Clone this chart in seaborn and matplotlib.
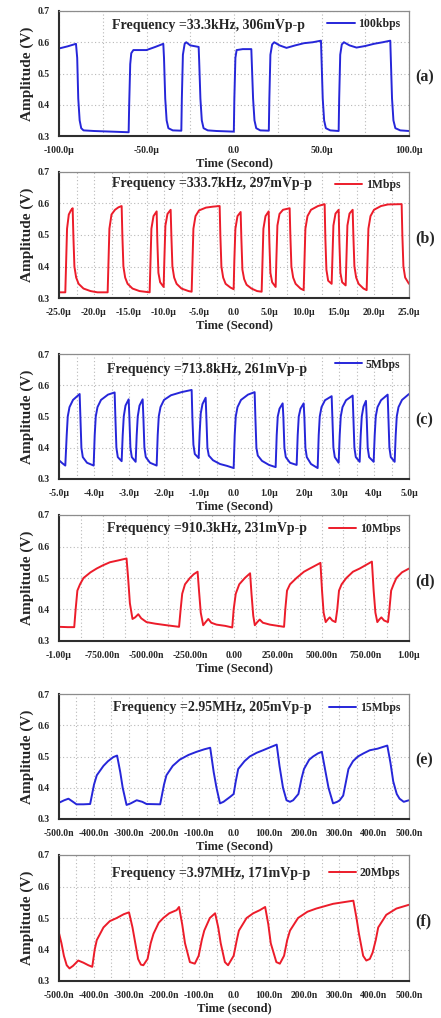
import numpy as np
import pandas as pd
import matplotlib
matplotlib.use("Agg")
import matplotlib.pyplot as plt
from matplotlib.ticker import FixedLocator, MultipleLocator
import seaborn as sns

# ---------------- data ----------------
# (a) 100kbps, time in microseconds
t_a = [-100, -95, -90.3, -89.6, -89.0, -88.2, -87.3, -86, -80, -70, -60.2,
       -59.9, -59.3, -58.7, -57.5, -50, -45, -40.4,
       -40.0, -39.3, -38.5, -37.5, -35, -30.1,
       -29.8, -29.2, -28.2, -27.3, -25, -20.2,
       -19.9, -19.2, -18.4, -17.4, -15, -10, -5, -0.1,
       0.2, 0.8, 1.5, 5, 9.9,
       10.2, 10.9, 11.7, 12.7, 15, 19.9,
       20.2, 20.8, 21.8, 23, 26, 30, 35, 40, 45, 49.7,
       50.0, 50.7, 51.5, 52.5, 55, 59.8,
       60.1, 60.7, 61.6, 62.8, 66, 70, 75, 80, 85, 89.3,
       89.6, 90.3, 91.1, 92.2, 95, 100]
v_a = [0.580, 0.587, 0.595, 0.55, 0.42, 0.35, 0.325, 0.318, 0.316, 0.314, 0.312,
       0.40, 0.53, 0.565, 0.575, 0.575, 0.585, 0.595,
       0.55, 0.42, 0.35, 0.325, 0.318, 0.317,
       0.42, 0.56, 0.595, 0.600, 0.59, 0.585,
       0.54, 0.42, 0.35, 0.325, 0.318, 0.316, 0.315, 0.314,
       0.42, 0.55, 0.575, 0.578, 0.578,
       0.53, 0.42, 0.35, 0.325, 0.318, 0.317,
       0.42, 0.56, 0.593, 0.600, 0.59, 0.582, 0.59, 0.597, 0.600, 0.605,
       0.55, 0.42, 0.35, 0.325, 0.318, 0.316,
       0.42, 0.56, 0.593, 0.600, 0.59, 0.583, 0.588, 0.595, 0.600, 0.605,
       0.55, 0.42, 0.35, 0.325, 0.318, 0.316]

# (b) 1Mbps, microseconds
t_b = [-25, -24.1,
       -24.0, -23.85, -23.6, -23.3, -23.05,
       -22.95, -22.8, -22.55, -22.2, -21.5, -20.5, -19.5, -18.05,
       -17.95, -17.8, -17.5, -17.0, -16.5, -16.05,
       -15.95, -15.8, -15.55, -15.2, -14.5, -13.5, -12.05,
       -11.95, -11.8, -11.5, -11.05,
       -10.95, -10.8, -10.55, -10.05,
       -9.95, -9.8, -9.5, -9.05,
       -8.95, -8.8, -8.55, -8.2, -7.5, -6.5, -6.05,
       -5.95, -5.8, -5.5, -5.0, -4.0, -3.0, -2.05,
       -1.95, -1.8, -1.55, -1.2, -0.5, -0.05,
       0.05, 0.2, 0.5, 0.95,
       1.05, 1.2, 1.45, 1.8, 2.5, 3.3, 3.95,
       4.05, 4.2, 4.5, 4.95,
       5.05, 5.2, 5.45, 5.95,
       6.05, 6.2, 6.5, 7.0, 7.95,
       8.05, 8.2, 8.45, 8.8, 9.5, 9.95,
       10.05, 10.2, 10.5, 11.0, 12.0, 12.95,
       13.05, 13.2, 13.45, 13.95,
       14.05, 14.2, 14.5, 14.95,
       15.05, 15.2, 15.45, 15.95,
       16.05, 16.2, 16.5, 16.95,
       17.05, 17.2, 17.45, 17.8, 18.5, 18.95,
       19.05, 19.2, 19.5, 20.0, 21.0, 22.0, 23.95,
       24.05, 24.2, 24.45, 25.0]
v_b = [0.318, 0.318,
       0.40, 0.52, 0.565, 0.578, 0.585,
       0.50, 0.40, 0.365, 0.345, 0.33, 0.322, 0.318, 0.318,
       0.40, 0.52, 0.565, 0.58, 0.588, 0.592,
       0.50, 0.40, 0.365, 0.345, 0.33, 0.322, 0.318,
       0.40, 0.52, 0.56, 0.575,
       0.48, 0.38, 0.35, 0.335,
       0.42, 0.53, 0.567, 0.58,
       0.50, 0.40, 0.365, 0.345, 0.33, 0.322, 0.32,
       0.40, 0.52, 0.56, 0.578, 0.587, 0.59, 0.592,
       0.50, 0.40, 0.365, 0.345, 0.333, 0.328,
       0.42, 0.52, 0.56, 0.573,
       0.49, 0.39, 0.36, 0.342, 0.33, 0.322, 0.32,
       0.40, 0.52, 0.56, 0.575,
       0.48, 0.38, 0.35, 0.335,
       0.42, 0.53, 0.567, 0.58, 0.585,
       0.50, 0.40, 0.365, 0.345, 0.33, 0.325,
       0.40, 0.52, 0.56, 0.58, 0.592, 0.598,
       0.49, 0.39, 0.355, 0.345,
       0.42, 0.53, 0.568, 0.58,
       0.48, 0.38, 0.35, 0.34,
       0.42, 0.53, 0.568, 0.58,
       0.50, 0.40, 0.365, 0.345, 0.33, 0.325,
       0.40, 0.52, 0.56, 0.58, 0.592, 0.597, 0.598,
       0.50, 0.40, 0.365, 0.345]

# (c) 5Mbps, microseconds
t_c = [-5.0, -4.9, -4.82,
       -4.78, -4.75, -4.7, -4.6, -4.41,
       -4.39, -4.36, -4.32, -4.2, -4.01,
       -3.98, -3.95, -3.9, -3.8, -3.6, -3.41,
       -3.39, -3.36, -3.32, -3.21,
       -3.18, -3.15, -3.1, -3.01,
       -2.99, -2.96, -2.92, -2.81,
       -2.78, -2.75, -2.7, -2.61,
       -2.59, -2.56, -2.52, -2.4, -2.21,
       -2.18, -2.15, -2.1, -2.0, -1.8, -1.5, -1.21,
       -1.19, -1.16, -1.12, -1.01,
       -0.98, -0.95, -0.9, -0.81,
       -0.79, -0.76, -0.72, -0.6, -0.4, -0.2, -0.01,
       0.02, 0.05, 0.1, 0.2, 0.4, 0.59,
       0.61, 0.64, 0.68, 0.8, 1.0, 1.19,
       1.22, 1.25, 1.3, 1.39,
       1.41, 1.44, 1.48, 1.6, 1.79,
       1.82, 1.85, 1.9, 1.99,
       2.01, 2.04, 2.08, 2.2, 2.39,
       2.42, 2.45, 2.5, 2.6, 2.79,
       2.81, 2.84, 2.88, 2.99,
       3.02, 3.05, 3.1, 3.2, 3.39,
       3.41, 3.44, 3.48, 3.59,
       3.62, 3.65, 3.7, 3.77,
       3.79, 3.82, 3.86, 3.99,
       4.02, 4.05, 4.1, 4.2, 4.39,
       4.41, 4.44, 4.48, 4.59,
       4.62, 4.65, 4.7, 4.8, 5.0]
v_c = [0.36, 0.35, 0.343,
       0.44, 0.50, 0.53, 0.553, 0.572,
       0.50, 0.40, 0.37, 0.352, 0.343,
       0.44, 0.50, 0.53, 0.553, 0.57, 0.577,
       0.50, 0.40, 0.37, 0.357,
       0.44, 0.50, 0.535, 0.555,
       0.50, 0.40, 0.37, 0.355,
       0.44, 0.50, 0.535, 0.555,
       0.50, 0.40, 0.37, 0.352, 0.343,
       0.44, 0.50, 0.53, 0.553, 0.568, 0.578, 0.585,
       0.50, 0.41, 0.38, 0.367,
       0.45, 0.51, 0.54, 0.56,
       0.50, 0.40, 0.375, 0.36, 0.348, 0.342, 0.335,
       0.44, 0.50, 0.53, 0.553, 0.57, 0.578,
       0.50, 0.40, 0.375, 0.358, 0.345, 0.338,
       0.44, 0.50, 0.525, 0.542,
       0.50, 0.40, 0.37, 0.352, 0.345,
       0.44, 0.50, 0.525, 0.542,
       0.50, 0.40, 0.37, 0.348, 0.335,
       0.44, 0.50, 0.53, 0.552, 0.565,
       0.50, 0.40, 0.37, 0.352,
       0.44, 0.50, 0.53, 0.552, 0.567,
       0.50, 0.40, 0.37, 0.355,
       0.44, 0.50, 0.532, 0.55,
       0.50, 0.40, 0.37, 0.355,
       0.44, 0.50, 0.53, 0.552, 0.57,
       0.50, 0.40, 0.37, 0.355,
       0.44, 0.50, 0.53, 0.553, 0.572]

# (d) 10Mbps, nanoseconds
t_d = [-1000, -950, -913,
       -905, -895, -880, -860, -820, -785, -750, -709, -660, -614,
       -605, -595, -580, -565, -547, -530, -500, -450, -385, -314,
       -305, -296, -280, -252, -230, -208,
       -200, -190, -176, -162, -147, -130, -100, -50, -10,
       -2, 10, 30, 62, 92,
       100, 110, 119, 133, 147, 165, 205, 286,
       293, 303, 320, 357, 400, 433, 494,
       503, 512, 524, 535, 547, 562, 580,
       590, 600, 615, 642, 680, 718, 788,
       798, 808, 819, 830, 842, 858, 880,
       888, 898, 912, 928, 960, 1000]
v_d = [0.345, 0.344, 0.344,
       0.40, 0.46, 0.48, 0.50, 0.518, 0.53, 0.54, 0.55, 0.556, 0.562,
       0.50, 0.42, 0.37, 0.375, 0.385, 0.372, 0.36, 0.355, 0.35, 0.345,
       0.40, 0.45, 0.48, 0.50, 0.512, 0.52,
       0.46, 0.39, 0.35, 0.36, 0.37, 0.358, 0.352, 0.348, 0.343,
       0.40, 0.45, 0.48, 0.50, 0.515,
       0.45, 0.38, 0.35, 0.36, 0.368, 0.358, 0.352, 0.345,
       0.40, 0.46, 0.48, 0.50, 0.52, 0.53, 0.548,
       0.46, 0.39, 0.36, 0.368, 0.375, 0.365, 0.36,
       0.40, 0.46, 0.48, 0.50, 0.52, 0.53, 0.552,
       0.46, 0.39, 0.36, 0.368, 0.375, 0.365, 0.36,
       0.40, 0.46, 0.48, 0.50, 0.518, 0.53]

# (e) 15Mbps, nanoseconds
t_e = [-500, -485, -473, -460, -450, -430, -411,
       -400, -392, -373, -360, -345, -334,
       -325, -318, -307, -295, -278, -262, -250, -211,
       -200, -193, -175, -155, -130, -107, -85, -68,
       -58, -50, -40, -30, -12, -1,
       5, 12, 30, 45, 65, 83, 100, 122,
       130, 140, 150, 160, 169, 184,
       193, 200, 215, 226, 240, 251,
       260, 270, 283, 295, 302, 312,
       320, 327, 340, 354, 370, 388, 410, 438,
       447, 455, 465, 473, 485, 500]
v_e = [0.352, 0.36, 0.365, 0.355, 0.347, 0.347, 0.348,
       0.41, 0.44, 0.47, 0.485, 0.498, 0.503,
       0.45, 0.40, 0.345, 0.35, 0.36, 0.355, 0.348, 0.347,
       0.41, 0.44, 0.47, 0.49, 0.505, 0.515, 0.523, 0.528,
       0.45, 0.40, 0.35, 0.355, 0.37, 0.38,
       0.42, 0.46, 0.485, 0.50, 0.512, 0.52, 0.528, 0.538,
       0.47, 0.40, 0.36, 0.355, 0.36, 0.38,
       0.43, 0.46, 0.49, 0.50, 0.51, 0.515,
       0.46, 0.40, 0.35, 0.355, 0.36, 0.375,
       0.42, 0.46, 0.485, 0.50, 0.51, 0.52, 0.525, 0.535,
       0.48, 0.42, 0.38, 0.365, 0.355, 0.36]

# (f) 20Mbps, nanoseconds
t_f = [-500, -493, -486, -478, -470, -460, -445, -430, -416, -405,
       -398, -392, -373, -355, -335, -315, -300,
       -290, -282, -274, -266, -259, -247,
       -238, -230, -215, -202, -185, -164, -157,
       -148, -140, -126, -112, -101,
       -92, -85, -69, -54,
       -45, -38, -26, -17, -1,
       8, 14, 36, 55, 74, 89,
       98, 105, 121, 131, 143,
       152, 160, 183, 210, 235, 283, 341,
       350, 357, 369, 378, 388, 396,
       405, 412, 435, 464, 500]
v_f = [0.452, 0.42, 0.38, 0.35, 0.34, 0.348, 0.365, 0.358, 0.35, 0.345,
       0.40, 0.43, 0.47, 0.49, 0.50, 0.512, 0.518,
       0.47, 0.42, 0.37, 0.352, 0.35, 0.37,
       0.42, 0.45, 0.485, 0.50, 0.515, 0.525, 0.535,
       0.48, 0.42, 0.36, 0.355, 0.38,
       0.43, 0.46, 0.50, 0.515,
       0.47, 0.42, 0.36, 0.35, 0.38,
       0.43, 0.46, 0.50, 0.515, 0.525, 0.535,
       0.48, 0.42, 0.36, 0.355, 0.38,
       0.43, 0.46, 0.50, 0.52, 0.53, 0.545, 0.555,
       0.50, 0.45, 0.38, 0.365, 0.37, 0.39,
       0.43, 0.47, 0.51, 0.53, 0.542]

series_t = [t_a, t_b, t_c, t_d, t_e, t_f]
series_v = [v_a, v_b, v_c, v_d, v_e, v_f]
legend_labels = ["100kbps", "1Mbps", "5Mbps", "10Mbps", "15Mbps", "20Mbps"]
annotations = ["Frequency =33.3kHz, 306mVp-p", "Frequency =333.7kHz, 297mVp-p",
               "Frequency =713.8kHz, 261mVp-p", "Frequency =910.3kHz, 231mVp-p",
               "Frequency =2.95MHz, 205mVp-p", "Frequency =3.97MHz, 171mVp-p"]
panel_tags = ["(a)", "(b)", "(c)", "(d)", "(e)", "(f)"]
x_labels = ["Time (Second)"] * 5 + ["Time (second)"]

xtick_labels_a = ["-100.0µ", "-50.0µ", "0.0", "50.0µ", "100.0µ"]
xtick_labels_b = ["-25.0µ", "-20.0µ", "-15.0µ", "-10.0µ", "-5.0µ", "0.0",
                  "5.0µ", "10.0µ", "15.0µ", "20.0µ", "25.0µ"]
xtick_labels_c = ["-5.0µ", "-4.0µ", "-3.0µ", "-2.0µ", "-1.0µ", "0.0",
                  "1.0µ", "2.0µ", "3.0µ", "4.0µ", "5.0µ"]
xtick_labels_d = ["-1.00µ", "-750.00n", "-500.00n", "-250.00n", "0.00",
                  "250.00n", "500.00n", "750.00n", "1.00µ"]
xtick_labels_e = ["-500.0n", "-400.0n", "-300.0n", "-200.0n", "-100.0n", "0.0",
                  "100.0n", "200.0n", "300.0n", "400.0n", "500.0n"]
xtick_labels_f = list(xtick_labels_e)
xtick_labels = [xtick_labels_a, xtick_labels_b, xtick_labels_c,
                xtick_labels_d, xtick_labels_e, xtick_labels_f]
x_limits = [(-100, 100), (-25, 25), (-5, 5), (-1000, 1000), (-500, 500), (-500, 500)]
ytick_values = [0.3, 0.4, 0.5, 0.6, 0.7]

# ---------------- styling / layout ----------------
sns.set_theme(style="white")
plt.rcParams['font.family'] = ['Liberation Serif', 'DejaVu Serif']
plt.rcParams['font.weight'] = 'bold'
plt.rcParams['axes.labelweight'] = 'bold'

BLUE = "#2626d9"
RED = "#ec1c2a"
colors = [BLUE, RED, BLUE, RED, BLUE, RED]

fig = plt.figure(figsize=(4.41, 10.18), dpi=100)
fig.patch.set_facecolor("white")

W, H = 441.0, 1018.0
left_px, right_px = 59, 409
tops = [11, 172, 354, 515, 694, 855]
bottoms = [136, 298, 479, 641, 819, 981]
ann_pos = [(0.151, 0.888), (0.151, 0.905), (0.137, 0.872),
           (0.137, 0.889), (0.155, 0.888), (0.151, 0.857)]
leg_y = [0.895, 0.895, 0.915, 0.885, 0.888, 0.857]

for i in range(6):
    ax = fig.add_axes([left_px / W, 1 - bottoms[i] / H,
                       (right_px - left_px) / W, (bottoms[i] - tops[i]) / H])
    df = pd.DataFrame({"t": series_t[i], "v": series_v[i]})
    sns.lineplot(data=df, x="t", y="v", ax=ax, color=colors[i], linewidth=1.4,
                 sort=False, estimator=None, label=legend_labels[i])
    lo, hi = x_limits[i]
    n = len(xtick_labels[i])
    major = np.linspace(lo, hi, n)
    step = major[1] - major[0]
    ax.set_xlim(lo, hi)
    ax.set_ylim(0.3, 0.7)
    ax.xaxis.set_major_locator(FixedLocator(major))
    ax.xaxis.set_minor_locator(MultipleLocator(step / 2))
    ax.set_xticklabels(xtick_labels[i])
    ax.yaxis.set_major_locator(FixedLocator(ytick_values))
    ax.yaxis.set_minor_locator(MultipleLocator(0.05))
    ax.set_yticklabels([f"{v:.1f}" for v in ytick_values])
    ax.tick_params(axis="both", which="major", direction="out", length=3.5,
                   width=1.0, color="#333333", labelsize=7, pad=3.5)
    ax.tick_params(axis="both", which="minor", direction="in", length=2.5,
                   width=0.8, color="#333333")
    ax.tick_params(axis="y", which="major", labelsize=7, pad=3)
    for lab in ax.get_xticklabels() + ax.get_yticklabels():
        lab.set_fontweight("bold")
    ax.grid(True, axis="x", which="both", linestyle=(0, (1, 2.2)),
            color="#b8b8b8", linewidth=0.8)
    ax.grid(True, axis="y", which="major", linestyle=(0, (1, 2.2)),
            color="#b8b8b8", linewidth=0.8)
    ax.set_axisbelow(True)
    for side in ["left", "bottom"]:
        ax.spines[side].set_color("#2e2e2e")
        ax.spines[side].set_linewidth(1.5)
    for side in ["top", "right"]:
        ax.spines[side].set_color("#8c8c8c")
        ax.spines[side].set_linewidth(0.9)
    ax.set_xlabel(x_labels[i], fontsize=9, fontweight="bold", labelpad=1.5)
    ax.set_ylabel("Amplitude (V)", fontsize=11, fontweight="bold", labelpad=3)
    ax.text(ann_pos[i][0], ann_pos[i][1], annotations[i], transform=ax.transAxes,
            ha="left", va="center", fontsize=10, fontweight="bold")
    ax.legend(loc="center right", bbox_to_anchor=(0.975, leg_y[i]), frameon=False,
              prop={"size": 8.5, "weight": "bold"}, handlelength=2.3,
              handletextpad=0.3, borderaxespad=0, borderpad=0)
    ax.text(1.018, 0.47, panel_tags[i], transform=ax.transAxes, ha="left",
            va="center", fontsize=11.5, fontweight="bold")

fig.savefig("out.png", dpi=100, facecolor="white")
